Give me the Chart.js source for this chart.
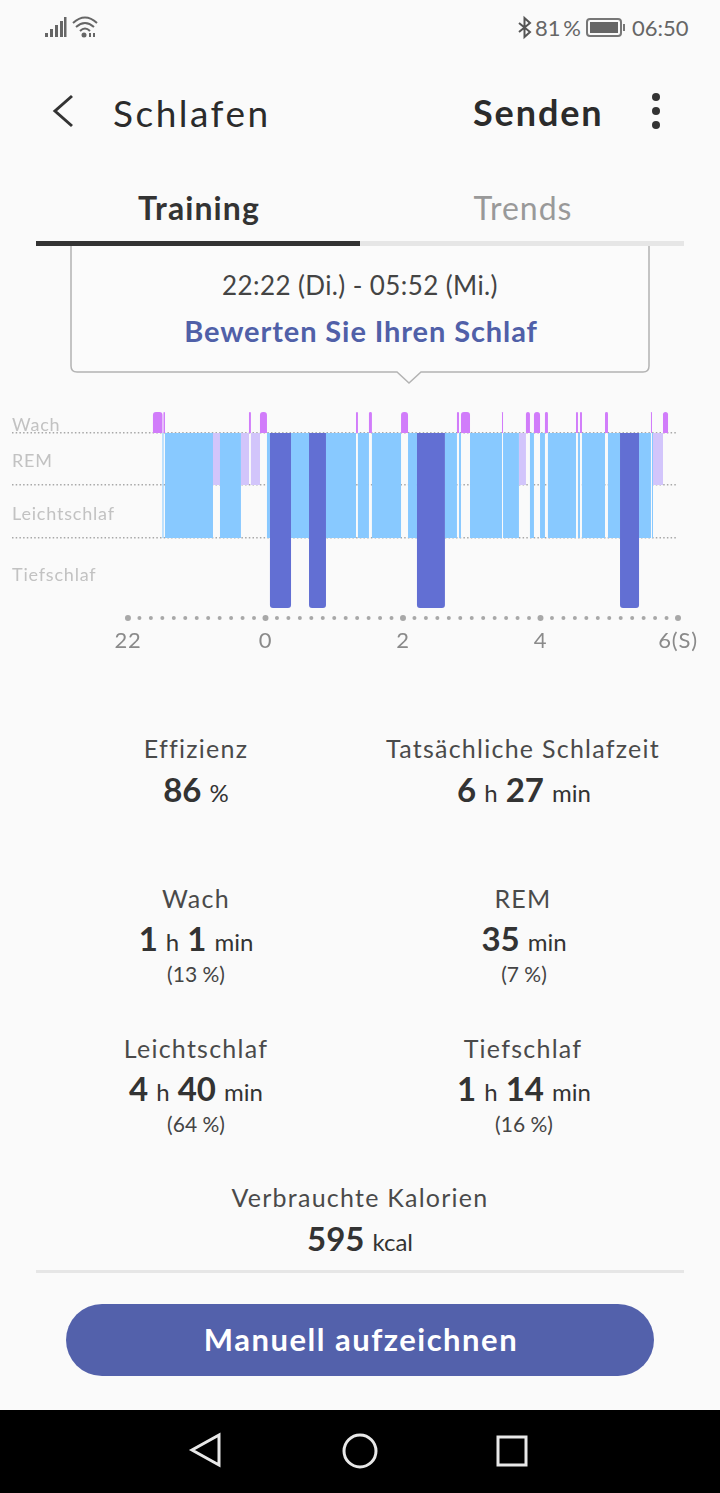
<!DOCTYPE html>
<html lang="de">
<head>
<meta charset="utf-8">
<title>Schlafen</title>
<script src="https://cdn.jsdelivr.net/npm/chart.js@4/dist/chart.umd.min.js"></script>
<style>
  html, body { margin: 0; padding: 0; background: #fafafa; }
  body { position: relative; width: 720px; height: 1493px; overflow: hidden; font-family: Lato, "Noto Sans", sans-serif; color: #333; }
  .t { position: absolute; white-space: nowrap; transform: translateY(-50%); line-height: 1; }
  .c { transform: translate(-50%, -50%); }
  .label { font-size: 25px; color: #4a4a4a; letter-spacing: 1.25px; }
  .value { font-size: 33px; font-weight: 700; color: #333; }
  .value small { font-size: 24px; font-weight: 400; }
  .pct { font-size: 21px; color: #444; }
  .box { position: absolute; }
  #chartWrap { position: absolute; left: 0; top: 400px; width: 720px; height: 260px; }
  svg { position: absolute; overflow: visible; }
</style>
</head>
<body>

<!-- status bar -->
<svg style="left:0;top:0" width="720" height="60">
  <g fill="#666">
    <rect x="45" y="33" width="3" height="4"/><rect x="50" y="29" width="3" height="8"/>
    <rect x="55" y="25" width="3" height="12"/><rect x="60" y="21" width="3" height="16"/><rect x="64" y="17" width="2.5" height="20"/>
  </g>
  <g fill="none" stroke="#666" stroke-width="2">
    <path d="M73 23 Q85 12 97 23"/><path d="M76 27 Q85 19 94 27"/><path d="M80 31 Q85 26 90 31"/>
  </g>
  <circle cx="84" cy="35" r="2.5" fill="#666"/>
  <rect x="89" y="33" width="2" height="4" fill="#666"/><rect x="93" y="33" width="2" height="4" fill="#666"/>
  <path d="M519 23 L530 32 L524.5 37 L524.5 18 L530 23 L519 32" fill="none" stroke="#555" stroke-width="2"/>
  <rect x="587" y="19" width="34" height="17" rx="3" fill="#fafafa" stroke="#777" stroke-width="2"/>
  <rect x="590" y="22" width="28" height="11" fill="#666"/>
  <rect x="623" y="24" width="2" height="7" fill="#777"/>
</svg>
<div class="t" style="left:535px;top:28px;font-size:22px;color:#666;word-spacing:-3px">81 %</div>
<div class="t" style="left:632px;top:28px;font-size:22px;color:#666">06:50</div>

<!-- header -->
<svg style="left:0;top:0" width="720" height="140">
  <path d="M72 96 L55 111 L72 126" fill="none" stroke="#333" stroke-width="3"/>
  <circle cx="656" cy="97" r="4" fill="#333"/><circle cx="656" cy="111" r="4" fill="#333"/><circle cx="656" cy="125" r="4" fill="#333"/>
</svg>
<div class="t" style="left:113px;top:112px;font-size:37px;letter-spacing:2.5px;color:#2b2b2b">Schlafen</div>
<div class="t" style="left:473px;top:112px;font-size:36px;font-weight:700;letter-spacing:1.9px;color:#2b2b2b">Senden</div>

<!-- tabs -->
<div class="t c" style="left:199px;top:208px;font-size:32px;font-weight:700;letter-spacing:1.1px;color:#333">Training</div>
<div class="t c" style="left:523px;top:208px;font-size:32px;letter-spacing:1px;color:#999">Trends</div>

<!-- tooltip card -->
<svg style="left:0;top:240px" width="720" height="150">
  <path d="M71 6 L71 126 Q71 132 77 132 L397 132 L409 143 L421 132 L643 132 Q649 132 649 126 L649 6" fill="#fbfbfb" stroke="#b3b3b3" stroke-width="1.5"/>
</svg>
<div class="box" style="left:36px;top:241px;width:324px;height:5px;background:#333"></div>
<div class="box" style="left:360px;top:241px;width:324px;height:5px;background:#e6e6e6"></div>
<div class="t c" style="left:360px;top:285px;font-size:26px;letter-spacing:0.4px;color:#444">22:22 (Di.) - 05:52 (Mi.)</div>
<div class="t c" style="left:361px;top:330px;font-size:29px;font-weight:700;letter-spacing:0.9px;color:#5060a8">Bewerten Sie Ihren Schlaf</div>

<div id="chartWrap"><canvas id="sleepChart"></canvas></div>

<!-- stats -->
<div class="t c label" style="left:196px;top:748px">Effizienz</div>
<div class="t c value" style="left:196px;top:789px">86 <small>%</small></div>
<div class="t c label" style="left:523px;top:748px">Tatsächliche Schlafzeit</div>
<div class="t c value" style="left:524px;top:789px">6 <small>h</small> 27 <small>min</small></div>

<div class="t c label" style="left:196px;top:898px">Wach</div>
<div class="t c value" style="left:196px;top:938px">1 <small>h</small> 1 <small>min</small></div>
<div class="t c pct" style="left:196px;top:973px">(13 %)</div>
<div class="t c label" style="left:523px;top:898px">REM</div>
<div class="t c value" style="left:524px;top:938px">35 <small>min</small></div>
<div class="t c pct" style="left:524px;top:973px">(7 %)</div>

<div class="t c label" style="left:196px;top:1048px">Leichtschlaf</div>
<div class="t c value" style="left:196px;top:1088px">4 <small>h</small> 40 <small>min</small></div>
<div class="t c pct" style="left:196px;top:1123px">(64 %)</div>
<div class="t c label" style="left:523px;top:1048px">Tiefschlaf</div>
<div class="t c value" style="left:524px;top:1088px">1 <small>h</small> 14 <small>min</small></div>
<div class="t c pct" style="left:524px;top:1123px">(16 %)</div>

<div class="t c label" style="left:360px;top:1197px">Verbrauchte Kalorien</div>
<div class="t c value" style="left:360px;top:1238px">595 <small>kcal</small></div>

<div class="box" style="left:36px;top:1270px;width:648px;height:3px;background:#e6e6e6"></div>

<!-- button -->
<div class="box" style="left:66px;top:1304px;width:588px;height:72px;border-radius:36px;background:#5361ab"></div>
<div class="t c" style="left:361px;top:1339px;font-size:31px;font-weight:700;letter-spacing:1.5px;color:#fff">Manuell aufzeichnen</div>

<!-- navigation bar -->
<div class="box" style="left:0;top:1410px;width:720px;height:83px;background:#000"></div>
<svg style="left:0;top:1410px" width="720" height="83">
  <g fill="none" stroke="#e8e8e8" stroke-width="3">
    <path d="M219 25 L219 55 L192 40 Z"/>
    <circle cx="360" cy="41" r="16"/>
    <rect x="498" y="27" width="28" height="28"/>
  </g>
</svg>

<script>
// Sleep phases as [start, end], minutes after 22:00
var wachPhases = [[21.8, 30.1], [31, 32.3], [105.6, 107.3], [115.2, 121.3], [199, 200.7], [210.3, 212.9],
    [238.3, 244.4], [287.1, 288.9], [290.6, 298.5], [326.4, 327.3], [347.3, 350.8], [354.3, 359.6],
    [363.9, 366.5], [391, 392.7], [394.5, 396.2], [416.3, 418.9], [456.4, 457.3], [466.9, 471.3]];
var remPhases = [[74.2, 80.3], [98.6, 105.6], [107.3, 115.2], [341.2, 347.3], [458.2, 466.9]];
var leichtPhases = [[30.1, 31], [32.3, 74.2], [80.3, 98.6], [121.3, 123.9], [142.3, 158], [172.8, 199],
    [200.7, 210.3], [212.9, 238.3], [244.4, 252.2], [276.6, 287.1], [288.9, 290.6], [298.5, 326.4],
    [327.3, 341.2], [350.8, 354.3], [359.6, 363.9], [366.5, 391], [392.7, 394.5], [396.2, 416.3],
    [418.9, 429.4], [446, 456.4], [457.3, 458.2]];
var tiefPhases = [[123.9, 142.3], [158, 172.8], [252.2, 276.6], [429.4, 446]];

var stageNames = ['Wach', 'REM', 'Leichtschlaf', 'Tiefschlaf'];
var hourLabels = ['22', '0', '2', '4', '6(S)'];

// one y unit is one pixel of the plot
var stageLines = [70, 123, 175];
var stageLabelRows = [183, 147, 94, 33];

function toBars(phases, center) {
    return phases.map(function(p) {
        return { x: p, y: center };
    });
}

function stageDataset(name, phases, center, thickness, color, radius) {
    return {
        label: name,
        data: toBars(phases, center),
        stack: 'sleep',
        barThickness: thickness,
        backgroundColor: color,
        borderSkipped: false,
        borderWidth: 0,
        inflateAmount: 0,
        borderRadius: radius
    };
}

// small dots along the time axis, a big one at each labelled hour
var axisDots = {
    id: 'axisDots',
    beforeDraw: function(chart) {
        // the app font runs wider than Lato
        chart.ctx.letterSpacing = '0.8px';
    },
    afterDraw: function(chart) {
        var xScale = chart.scales.x;
        var ctx = chart.ctx;
        ctx.save();
        ctx.fillStyle = '#a8a8a8';
        xScale.ticks.forEach(function(tick) {
            var big = tick.value % 120 === 0;
            ctx.beginPath();
            ctx.arc(xScale.getPixelForValue(tick.value), xScale.top, big ? 3 : 2, 0, Math.PI * 2);
            ctx.fill();
        });
        ctx.restore();
    }
};

new Chart(document.getElementById('sleepChart'), {
    type: 'bar',
    data: {
        datasets: [
            stageDataset('Tiefschlaf', tiefPhases, 87.5, 175, '#626fd3', { topLeft: 0, topRight: 0, bottomLeft: 3, bottomRight: 3 }),
            stageDataset('Leichtschlaf', leichtPhases, 122.5, 105, '#88c9ff', 0),
            stageDataset('REM', remPhases, 149, 52, '#d2c5fb', 0),
            stageDataset('Wach', wachPhases, 185.5, 21, '#d17cfa', { topLeft: 3, topRight: 3, bottomLeft: 0, bottomRight: 0 })
        ]
    },
    options: {
        indexAxis: 'y',
        responsive: true,
        maintainAspectRatio: false,
        animation: false,
        layout: { padding: { left: 12, right: 42, top: 12, bottom: 0 } },
        plugins: {
            legend: { display: false },
            tooltip: { enabled: false }
        },
        scales: {
            x: {
                type: 'linear',
                stacked: false,
                min: -101.2,
                max: 480,
                grid: { display: false },
                border: { display: false },
                afterFit: function(scale) {
                    scale.height = 42;
                },
                afterBuildTicks: function(scale) {
                    var ticks = [];
                    for (var m = 0; m <= 480; m += 10) {
                        ticks.push({ value: m });
                    }
                    scale.ticks = ticks;
                },
                ticks: {
                    autoSkip: false,
                    maxRotation: 0,
                    padding: 2,
                    color: '#8a8a8a',
                    font: { family: 'Lato', size: 22 },
                    callback: function(value) {
                        return value % 120 === 0 ? hourLabels[value / 120] : '';
                    }
                }
            },
            y: {
                type: 'linear',
                offset: false,
                min: -10,
                max: 196,
                afterFit: function(scale) {
                    scale.width = 0;
                },
                afterBuildTicks: function(scale) {
                    scale.ticks = stageLines.map(function(v) {
                        return { value: v };
                    });
                },
                grid: { color: '#a8a8a8', lineWidth: 1.5, drawTicks: false, offset: false },
                border: { display: false, dash: [1.5, 2.2] },
                ticks: { display: false }
            },
            stageLabels: {
                type: 'linear',
                position: 'left',
                axis: 'y',
                offset: false,
                min: -10,
                max: 196,
                afterFit: function(scale) {
                    scale.width = 0;
                },
                afterBuildTicks: function(scale) {
                    scale.ticks = stageLabelRows.map(function(v) {
                        return { value: v };
                    });
                },
                grid: { display: false },
                border: { display: false },
                ticks: {
                    mirror: true,
                    padding: 0,
                    color: '#c2c2c2',
                    font: { family: 'Lato', size: 18 },
                    callback: function(value) {
                        return stageNames[stageLabelRows.indexOf(value)];
                    }
                }
            }
        }
    },
    plugins: [axisDots]
});
</script>
</body>
</html>
